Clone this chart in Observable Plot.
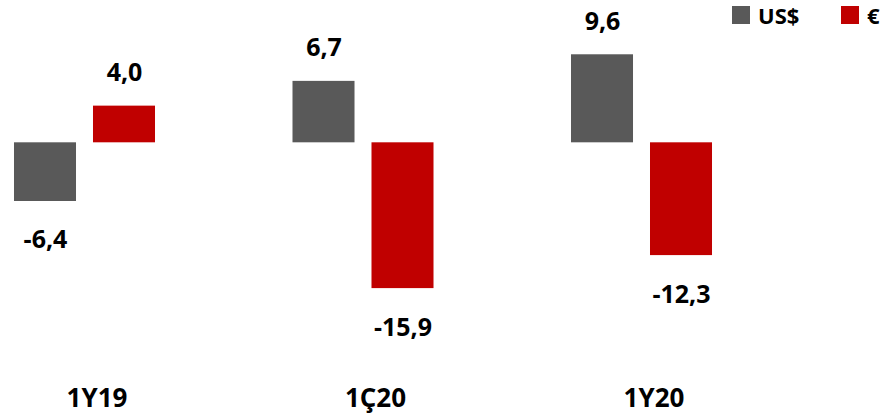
<!DOCTYPE html>
<html>
<head>
<meta charset="utf-8">
<script src="https://cdn.jsdelivr.net/npm/d3@7"></script>
<script src="https://cdn.jsdelivr.net/npm/@observablehq/plot@0.6"></script>
<style>
  html, body { margin: 0; padding: 0; background: #fff; }
  #wrap { position: relative; width: 893px; height: 416px; font-family: "Open Sans", sans-serif; }
  .leg { position: absolute; top: 0; display: flex; align-items: center; font-weight: 700; font-size: 22px; line-height: normal; color: #000; }
  .sw { display: inline-block; width: 18px; height: 18px; margin-right: 8px; }
</style>
</head>
<body>
<div id="wrap"></div>
<script>
const groups = ["1Y19", "1Ç20", "1Y20"];
const series = ["US$", "€"];
const usdValues = [-6.4, 6.7, 9.6];
const eurValues = [4.0, -15.9, -12.3];
const seriesColors = ["#595959", "#C00000"];

const data = groups.flatMap((g, i) => [
  {group: g, series: series[0], value: usdValues[i]},
  {group: g, series: series[1], value: eurValues[i]}
]);
const fmt = v => v.toFixed(1).replace(".", ",");

const chart = Plot.plot({
  width: 893,
  height: 416,
  marginLeft: 0,
  marginRight: 167,
  marginTop: 0,
  marginBottom: 30.7,
  style: {fontFamily: "'Open Sans', sans-serif", background: "#fff", color: "#000", overflow: "visible"},
  fx: {domain: groups, paddingInner: 0.45, paddingOuter: 0.0284, round: false, label: null},
  x: {domain: series, paddingInner: 0.215, paddingOuter: 0.077, round: false, axis: null},
  y: {domain: [-26.5, 15.52], axis: null},
  color: {domain: series, range: seriesColors},
  marks: [
    Plot.barY(data, {fx: "group", x: "series", y: "value", fill: "series"}),
    Plot.text(data.filter(d => d.value >= 0), {
      fx: "group", x: "series", y: "value", text: d => fmt(d.value),
      dy: -33, fontSize: 25, fontWeight: "bold", fill: "#000"
    }),
    Plot.text(data.filter(d => d.value < 0), {
      fx: "group", x: "series", y: "value", text: d => fmt(d.value),
      dy: 39, fontSize: 25, fontWeight: "bold", fill: "#000"
    }),
    Plot.axisFx({anchor: "bottom", tickSize: 0, tickPadding: 3, fontSize: 26, fontWeight: "bold", dx: 12, label: null, fill: "#000"})
  ]
});

const wrap = document.getElementById("wrap");
wrap.appendChild(chart);

// legend
const legendPos = [732, 841];
series.forEach((s, i) => {
  const el = document.createElement("div");
  el.className = "leg";
  el.style.left = legendPos[i] + "px";
  el.innerHTML = `<span class="sw" style="background:${seriesColors[i]}"></span><span>${s}</span>`;
  wrap.appendChild(el);
});
</script>
</body>
</html>
